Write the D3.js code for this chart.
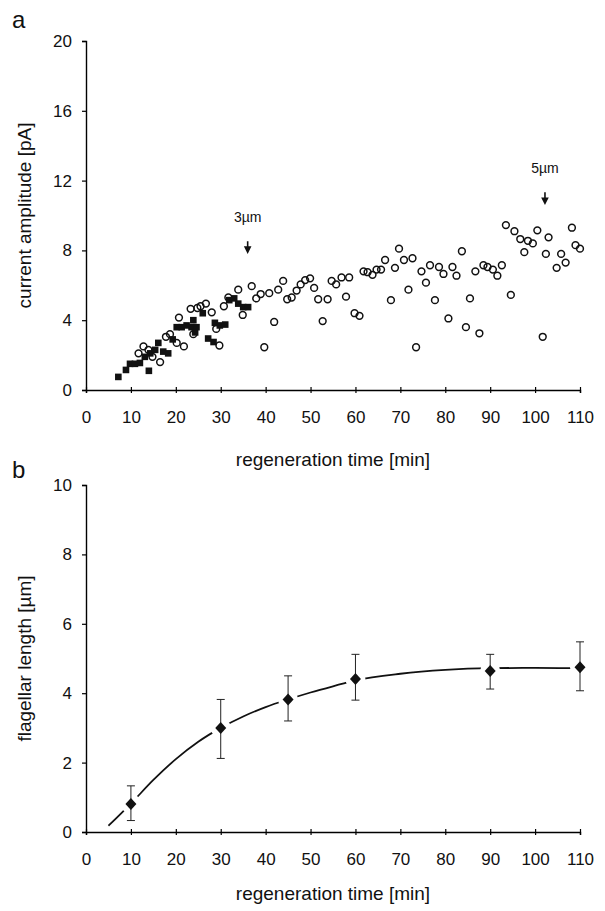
<!DOCTYPE html>
<html>
<head>
<meta charset="utf-8">
<script src="https://cdn.jsdelivr.net/npm/d3@7"></script>
<style>
  body { margin: 0; background: #fff; }
  svg text { font-family: "Liberation Sans", Arial, sans-serif; fill: #111; }
</style>
</head>
<body>
<svg id="chart" width="605" height="911"></svg>
<script>
// panel a: current amplitude vs regeneration time
var filledPts = [
  [7.2,0.75],[8.9,1.15],[9.8,1.5],[10.9,1.5],[12,1.55],[13.1,1.9],[14,1.1],[14.3,2.1],
  [15.4,2.3],[16.1,2.7],[17.2,2.2],[18.3,2.1],[19.3,2.9],[20.2,3.6],[21.3,3.6],[22.4,3.7],
  [23.5,3.6],[23.9,4.0],[24.3,3.3],[24.6,3.6],[26,4.4],[27.2,2.95],[28.4,2.75],[28.7,3.85],
  [29.8,3.7],[31,3.75],[31.9,5.15],[33,5.25],[33.9,4.95],[35,4.75],[36.1,4.75]
];
var openPts = [
  [11.7,2.1],[12.8,2.5],[13.9,2.3],[14.8,1.9],[16.5,1.6],[17.8,3.05],[18.7,3.2],[20.2,2.7],
  [20.7,4.15],[21.8,2.5],[23.3,4.65],[23.9,3.2],[24.8,4.7],[25.5,4.8],[26.7,4.95],[28,4.45],
  [29,3.5],[29.7,2.55],[30.7,4.8],[31.7,5.3],[33.9,5.75],[34.9,4.3],[36.9,5.95],[37.9,5.25],
  [38.9,5.5],[39.7,2.45],[40.8,5.55],[41.9,3.9],[42.8,5.75],[43.9,6.25],[44.8,5.2],[45.8,5.3],
  [46.9,5.7],[47.8,6.05],[48.8,6.3],[49.9,6.4],[50.8,5.85],[51.7,5.2],[52.7,3.95],[53.8,5.2],
  [54.7,6.25],[55.7,6.05],[56.9,6.45],[57.9,5.35],[58.6,6.45],[59.8,4.4],[60.9,4.25],[61.8,6.8],
  [62.7,6.75],[63.8,6.6],[64.7,6.9],[65.7,6.9],[66.6,7.45],[67.9,5.15],[68.8,7.0],[69.7,8.1],
  [70.8,7.45],[71.8,5.75],[72.7,7.55],[73.5,2.45],[74.7,6.8],[75.7,6.15],[76.6,7.15],[77.7,5.15],
  [78.6,7.05],[79.6,6.65],[80.7,4.1],[81.6,7.05],[82.5,6.55],[83.7,7.95],[84.6,3.6],[85.5,5.25],
  [86.7,6.8],[87.6,3.25],[88.5,7.15],[89.4,7.05],[90.6,6.9],[91.6,6.55],[92.6,7.15],[93.5,9.45],
  [94.6,5.45],[95.4,9.1],[96.7,8.65],[97.6,7.9],[98.4,8.55],[99.5,8.4],[100.5,9.15],[101.7,3.05],
  [102.4,7.8],[103,8.75],[104.8,7.0],[105.8,7.8],[106.8,7.3],[108.2,9.3],[109,8.3],[110,8.1]
];
var arrowNotes = ["3\u00b5m", "5\u00b5m"];
var arrowTimes = [36, 102.2];
var arrowLevels = [7.9, 10.7];   // amplitude at each arrow tip

// panel b: flagellar length
var lenTimes = [10, 30, 45, 60, 90, 110];
var lenMeans = [0.81, 3.0, 3.82, 4.41, 4.64, 4.75];
var lenLow   = [0.33, 2.12, 3.2, 3.8, 4.12, 4.07];
var lenHigh  = [1.33, 3.82, 4.5, 5.12, 5.12, 5.48];
// fitted curve
var fitT = [5, 10, 15, 20, 25, 30, 35, 40, 45, 50, 55, 60, 70, 80, 90, 100, 108];
var fitL = [0.18, 0.82, 1.5, 2.1, 2.6, 3.0, 3.33, 3.6, 3.82, 4.02, 4.2, 4.37, 4.56, 4.67, 4.72, 4.73, 4.72];

var xTicks = d3.range(0, 111, 10);
var yTicksA = [0, 4, 8, 12, 16, 20];
var yTicksB = [0, 2, 4, 6, 8, 10];

var svg = d3.select("#chart");
var x = d3.scaleLinear().domain([0, 110]).range([86, 580]);
var yA = d3.scaleLinear().domain([0, 20]).range([390, 41]);
var yB = d3.scaleLinear().domain([0, 10]).range([832, 485]);

function drawAxes(y, yTicks, yTitle, letter, letterY, titleY) {
  var gx = svg.append("g").attr("transform", "translate(0," + y(0) + ")")
    .call(d3.axisBottom(x).tickValues(xTicks).tickSizeOuter(0).tickSize(3));
  gx.selectAll(".tick line").attr("y1", -3).attr("y2", 3).attr("stroke-width", 1.2);
  gx.selectAll(".tick text").attr("y", 33).attr("dy", 0).style("font-size", "17px");
  gx.select(".domain").attr("stroke-width", 1.4);

  var gy = svg.append("g").attr("transform", "translate(" + x(0) + ",0)")
    .call(d3.axisLeft(y).tickValues(yTicks).tickSizeOuter(0).tickSize(4).tickPadding(10));
  gy.selectAll(".tick line").attr("stroke-width", 1.2);
  gy.selectAll(".tick text").style("font-size", "17px");
  gy.select(".domain").attr("stroke-width", 1.4);

  svg.append("text").attr("x", (x(0) + x(110)) / 2).attr("y", titleY)
    .attr("text-anchor", "middle").style("font-size", "19px")
    .text("regeneration time [min]");
  var ym = (y.range()[0] + y.range()[1]) / 2;
  svg.append("text").attr("transform", "translate(31," + ym + ") rotate(-90)")
    .attr("text-anchor", "middle").style("font-size", "19px")
    .text(yTitle);
  svg.append("text").attr("x", 12).attr("y", letterY)
    .style("font-size", "24px").text(letter);
}

drawAxes(yA, yTicksA, "current amplitude [pA]", "a", 28, 466);
drawAxes(yB, yTicksB, "flagellar length [\u00b5m]", "b", 478, 900);

// panel a marks
svg.append("g").selectAll("rect").data(filledPts).enter().append("rect")
  .attr("x", function(d) { return x(d[0]) - 3.3; })
  .attr("y", function(d) { return yA(d[1]) - 3.3; })
  .attr("width", 6.6).attr("height", 6.6).attr("fill", "#111");

svg.append("g").selectAll("circle").data(openPts).enter().append("circle")
  .attr("cx", function(d) { return x(d[0]); })
  .attr("cy", function(d) { return yA(d[1]); })
  .attr("r", 3.4).attr("fill", "none").attr("stroke", "#111").attr("stroke-width", 1.5);

var notes = svg.append("g").selectAll("g").data(arrowNotes).enter().append("g");
notes.append("text")
  .attr("x", function(d, i) { return x(arrowTimes[i]); })
  .attr("y", function(d, i) { return yA(arrowLevels[i]) - 30; })
  .attr("text-anchor", "middle").style("font-size", "14px")
  .text(function(d) { return d; });
notes.append("path")
  .attr("d", function(d, i) {
    var cx = x(arrowTimes[i]), ty = yA(arrowLevels[i]);
    return "M" + cx + "," + (ty - 11) + "V" + (ty - 5) +
      "M" + (cx - 2.5) + "," + (ty - 5) + "L" + cx + "," + ty + "L" + (cx + 2.5) + "," + (ty - 5) + "Z";
  })
  .attr("stroke", "#111").attr("stroke-width", 1.6).attr("fill", "#111");

// panel b marks
var fit = d3.line().x(function(d) { return x(d[0]); }).y(function(d) { return yB(d[1]); })
  .curve(d3.curveMonotoneX);
svg.append("path").datum(d3.zip(fitT, fitL)).attr("d", fit)
  .attr("fill", "none").attr("stroke", "#111").attr("stroke-width", 1.8);

var pts = svg.append("g").selectAll("g").data(lenTimes).enter().append("g");
pts.append("circle").attr("cx", function(d) { return x(d); })
  .attr("cy", function(d, i) { return yB(lenMeans[i]); })
  .attr("r", 10).attr("fill", "#fff");
pts.append("path").attr("d", function(d, i) {
    var cx = x(d), lo = yB(lenLow[i]), hi = yB(lenHigh[i]);
    return "M" + cx + "," + lo + "V" + hi + "M" + (cx - 4) + "," + hi + "H" + (cx + 4) +
      "M" + (cx - 4) + "," + lo + "H" + (cx + 4);
  })
  .attr("stroke", "#222").attr("stroke-width", 1).attr("fill", "none");
pts.append("path").attr("d", function(d, i) {
    var cx = x(d), cy = yB(lenMeans[i]);
    return "M" + cx + "," + (cy - 6) + "L" + (cx + 5.5) + "," + cy + "L" + cx + "," + (cy + 6) +
      "L" + (cx - 5.5) + "," + cy + "Z";
  })
  .attr("fill", "#111");
</script>
</body>
</html>
